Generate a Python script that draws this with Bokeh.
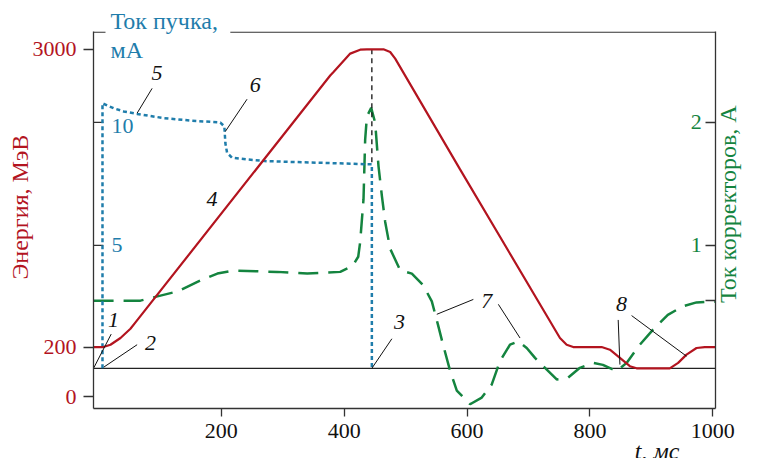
from bokeh.plotting import figure
from bokeh.models import Range1d, LinearAxis, FixedTicker, Label, Span, Title
from bokeh.embed import file_html
from bokeh.resources import INLINE
import math

# ---------------- data ----------------
red_t = [-8, 8, 19.5, 35.8, 52, 60.2, 377.2, 382.6, 409.8, 426, 436.9, 463.9, 474.8, 483,
         588.6, 751.2, 762.1, 772.8, 819, 832.5, 848.8, 865, 875.9, 930, 943.6, 957.2,
         973.5, 987, 1004]
red_e = [200, 200, 222, 285, 372, 432, 2754, 2788, 2960, 2997, 3000, 3000, 2975, 2913,
         1871, 285, 222, 200, 200, 175, 98, 20, 0, 0, 51, 129, 191, 200, 200]

blue_t = [6.5, 6.5, 24.9, 41.1, 62.9, 106.2, 149.6, 198.4, 204.9, 206.5, 209.3, 217.4,
          241.8, 274.3, 366.3, 445, 445]
blue_i = [0, 10.77, 10.57, 10.44, 10.34, 10.17, 10.07, 9.99, 9.83, 9.16, 8.76, 8.56,
          8.49, 8.42, 8.35, 8.29, 0]

green_t = [-8, 68.3, 89.4, 128.5, 165.9, 193.5, 219.5, 291, 339.8, 393.5, 414.6, 417.9,
           422.8, 426, 431.4, 434.1, 436.9, 443.9, 450.4, 455.8, 461.3, 466.7, 474.8,
           491.1, 510.1, 528.5, 542.6, 552.8, 561, 572.4, 583.3, 604.9, 623.9, 640.2,
           653.7, 669.9, 683.4, 697.1, 710.6, 723.6, 745.9, 764.2, 783.7, 805.4, 821.1,
           843.4, 859.7, 881.3, 902.4, 926.8, 951.2, 973.5, 1004]
green_i = [0.55, 0.55, 0.577, 0.625, 0.714, 0.770, 0.794, 0.784, 0.770, 0.784, 0.837,
           0.867, 0.907, 1.028, 1.375, 1.859, 2.047, 2.117, 1.996, 1.644, 1.402, 1.190,
           0.972, 0.797, 0.770, 0.676, 0.544, 0.351, 0.190, -0.020, -0.181, -0.292,
           -0.238, -0.131, 0.060, 0.192, 0.219, 0.165, 0.085, 0.020, -0.090, -0.077,
           0.004, 0.044, 0.028, -0.023, 0.044, 0.192, 0.313, 0.434, 0.504, 0.536, 0.542]

peak_t = [445, 445]
peak_e = [3000, 1917]

x_ticks = [200, 400, 600, 800, 1000]
energy_ticks = [-266, 200, 3000]
energy_tick_labels = {-266: "0"}
beam_ticks = [5, 10]
beam_tick_labels = ["5", "10"]
corr_ticks = [0.55, 1, 2]
corr_label_ticks = [1, 2]
corr_tick_labels = ["1", "2"]
corr_title_pos = 0.53

num_labels = [("1", 24.4, 453), ("2", 84.6, 238), ("3", 489.9, 440), ("4", 184.9, 1591),
              ("5", 95.4, 2773), ("6", 255.3, 2664), ("7", 632, 633), ("8", 851.5, 602)]
lead_x0 = [20.7, 62.9, 477.6, 87.3, 241.8, 610.2, 650.9, 846, 867.8]
lead_y0 = [322, 222, 278, 2633, 2531, 648, 602, 455, 496]
lead_x1 = [-7.6, 8.6, 445, 62.9, 206.5, 550.7, 686.2, 848.8, 957.2]
lead_y1 = [5, 11, 0, 2400, 2228, 508, 285, 35, 114]

# ---------------- styling ----------------
RED = "#b3141f"
BLUE = "#1f7dab"
GREEN = "#14843f"
AX = "#333333"
FONT = "Liberation Serif"
FS = "22px"
FT = "24px"

X0, X1 = -8.13, 1004.4
Y0, Y1 = -377.9, 3167.9

p = figure(width=757, height=458, output_backend="svg", toolbar_location=None,
           x_range=Range1d(X0, X1), y_range=Range1d(Y0, Y1),
           min_border_left=93, min_border_right=41, min_border_top=31, min_border_bottom=47)
p.extra_y_ranges = {"beam": Range1d(-1.633, 13.69), "corr": Range1d(-0.3266, 2.738)}
p.outline_line_color = None
p.grid.visible = False

xa = p.xaxis[0]
xa.ticker = FixedTicker(ticks=x_ticks)
xa.major_tick_in = 0
xa.major_tick_out = 8
xa.minor_tick_line_color = None
xa.major_label_standoff = 7
xa.axis_line_color = AX
xa.axis_line_width = 1.3
xa.major_tick_line_color = AX
xa.major_tick_line_width = 1.3
xa.major_label_text_font = FONT
xa.major_label_text_font_size = FS
xa.major_label_text_color = "#111111"

ya = p.yaxis[0]
ya.ticker = FixedTicker(ticks=energy_ticks)
ya.major_label_overrides = energy_tick_labels
ya.major_tick_in = 0
ya.major_tick_out = 10
ya.minor_tick_line_color = None
ya.major_label_standoff = 7
ya.axis_line_color = AX
ya.axis_line_width = 1.3
ya.major_tick_line_color = AX
ya.major_tick_line_width = 1.3
ya.major_label_text_font = FONT
ya.major_label_text_font_size = FS
ya.major_label_text_color = RED

# right spine with inward corrector-current ticks
ra = LinearAxis(y_range_name="corr", ticker=FixedTicker(ticks=corr_ticks),
                major_tick_in=10, major_tick_out=0, minor_tick_line_color=None,
                major_label_text_font_size="0px", major_label_standoff=0,
                axis_line_color=AX, axis_line_width=1.3,
                major_tick_line_color=AX, major_tick_line_width=1.3)
p.add_layout(ra, "right")

# corrector-current axis title (rotated, reading upward)
rt = LinearAxis(y_range_name="corr", ticker=FixedTicker(ticks=[corr_title_pos]),
                major_label_overrides={corr_title_pos: "Ток корректоров, А"},
                major_label_orientation=math.pi / 2, major_label_standoff=13,
                major_tick_in=0, major_tick_out=0, major_tick_line_color=None,
                minor_tick_line_color=None, axis_line_color=None,
                major_label_text_font=FONT, major_label_text_font_size=FT,
                major_label_text_color=GREEN)
p.add_layout(rt, "right")

# top frame line, broken for the beam-current title
top_y = Y1 - 6.0
p.segment(x0=[X0, 214.6], y0=[top_y, top_y], x1=[11.4, X1], y1=[top_y, top_y],
          line_color=AX, line_width=1.3)

p.add_layout(Span(location=0, dimension="width", line_color="#222222", line_width=1.2,
                  level="underlay"))

p.segment(x0=[X0] * len(beam_ticks), y0=beam_ticks, x1=[X0 + 16] * len(beam_ticks),
          y1=beam_ticks, y_range_name="beam", line_color=AX, line_width=1.3)
for t, s in zip(beam_ticks, beam_tick_labels):
    p.add_layout(Label(x=21, y=t - (0.15 if t == 10 else 0), text=s, y_range_name="beam",
                       text_align="left", text_baseline="middle", text_font=FONT,
                       text_font_size=FS, text_color=BLUE))
for t, s in zip(corr_label_ticks, corr_tick_labels):
    p.add_layout(Label(x=982, y=t, text=s, y_range_name="corr", text_align="right",
                       text_baseline="middle", text_font=FONT, text_font_size=FS,
                       text_color=GREEN))

p.line(green_t, green_i, y_range_name="corr", line_color=GREEN, line_width=2.5,
       line_dash="20 10")
p.line(blue_t, blue_i, y_range_name="beam", line_color=BLUE, line_width=2.5,
       line_dash="4 3")
p.line(peak_t, peak_e, line_color="#111111", line_width=1.3, line_dash="5 4")
p.line(red_t, red_e, line_color=RED, line_width=2.2)

p.segment(x0=lead_x0, y0=lead_y0, x1=lead_x1, y1=lead_y1, line_color="#111111",
          line_width=1)
for s, x, y in num_labels:
    p.add_layout(Label(x=x, y=y, text=s, text_align="center", text_baseline="middle",
                       text_font=FONT, text_font_size=FS, text_font_style="italic",
                       text_color="#111111"))

p.add_layout(Label(x=19.5, y=2990, text="мА", text_align="left", text_baseline="middle",
                   text_font=FONT, text_font_size=FT, text_color=BLUE))

# titles in the border panels
p.add_layout(Title(text="Ток пучка,", align="left", offset=17, standoff=-4,
                   text_font=FONT, text_font_size=FT, text_font_style="normal",
                   text_color=BLUE), "above")
p.add_layout(Title(text="Энергия, МэВ", align="left", offset=129, standoff=-7,
                   text_font=FONT, text_font_size=FT, text_font_style="normal",
                   text_color=RED), "left")
p.add_layout(Title(text="t, мс", align="right", offset=36, standoff=-10,
                   text_font=FONT, text_font_size=FT, text_font_style="italic",
                   text_color="#111111"), "below")

open("out.html", "w").write(file_html(p, INLINE))
